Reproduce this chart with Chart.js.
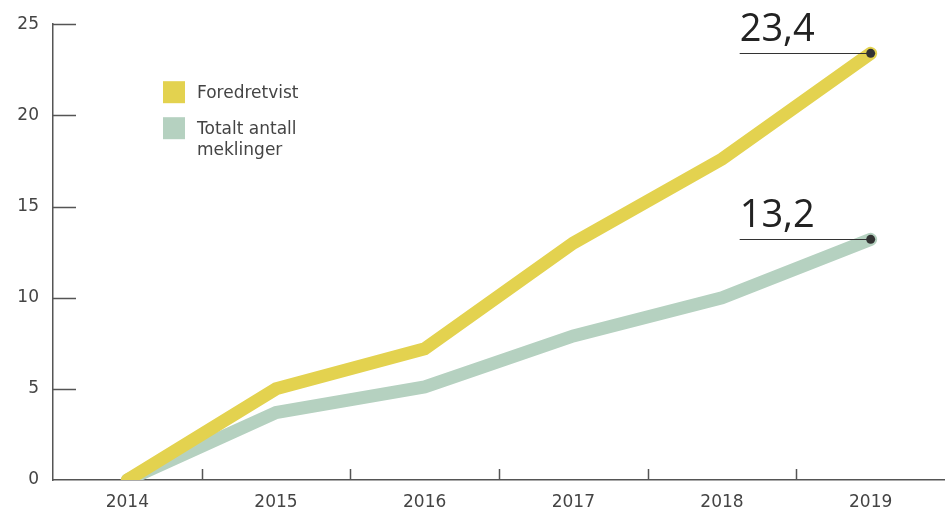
<!DOCTYPE html>
<html>
<head>
<meta charset="utf-8">
<script src="https://cdn.jsdelivr.net/npm/chart.js@4.4.0/dist/chart.umd.min.js"></script>
<style>
  html, body { margin: 0; padding: 0; background: #ffffff; }
  #wrap { width: 945px; height: 513px; }
</style>
</head>
<body>
<div id="wrap"><canvas id="c" width="945" height="513"></canvas></div>
<script>
const categories = ['2014', '2015', '2016', '2017', '2018', '2019'];
const foredretvist = [0, 5.0, 7.2, 13.0, 17.6, 23.4];
const totaltAntall = [0, 3.7, 5.1, 7.9, 10.0, 13.2];
const seriesLabels = [['Foredretvist'], ['Totalt antall', 'meklinger']];
const endLabels = ['23,4', '13,2'];
const yTickValues = [0, 5, 10, 15, 20, 25];

const YELLOW = '#e3d24f';
const GREEN = '#b5d1c0';
const AXIS = '#555555';
const FONT = '"DejaVu Sans", "Noto Sans", sans-serif';
const BIGFONT = '"Open Sans", "Noto Sans", sans-serif';

const innerTicks = {
  id: 'innerTicks',
  beforeDatasetsDraw(chart) {
    const { ctx, chartArea, scales: { x, y } } = chart;
    ctx.save();
    ctx.strokeStyle = AXIS;
    ctx.lineWidth = 1.5;
    ctx.beginPath();
    for (let i = 1; i < categories.length; i++) {
      const px = Math.round((x.getPixelForValue(i - 1) + x.getPixelForValue(i)) / 2) + 0.5;
      ctx.moveTo(px, chartArea.bottom);
      ctx.lineTo(px, chartArea.bottom - 11);
    }
    yTickValues.forEach(v => {
      if (v === 0) return;
      const py = Math.round(y.getPixelForValue(v)) + 0.5;
      ctx.moveTo(chartArea.left, py);
      ctx.lineTo(chartArea.left + 23, py);
    });
    ctx.stroke();
    ctx.restore();
  }
};

const legendAndLabels = {
  id: 'legendAndLabels',
  afterDatasetsDraw(chart) {
    const { ctx, chartArea } = chart;
    ctx.save();
    const colors = [YELLOW, GREEN];
    const lx = chartArea.left + 110;
    const ly = chartArea.top + 57;
    ctx.font = '17px ' + FONT;
    ctx.textBaseline = 'alphabetic';
    seriesLabels.forEach((lines, i) => {
      const by = ly + i * 36;
      ctx.fillStyle = colors[i];
      ctx.fillRect(lx, by, 22, 22);
      ctx.fillStyle = '#444';
      lines.forEach((t, j) => {
        ctx.fillText(t, lx + 34, by + 17 + j * 21);
      });
    });
    chart.data.datasets.forEach((ds, i) => {
      const meta = chart.getDatasetMeta(i);
      const pt = meta.data[meta.data.length - 1];
      const startX = pt.x - 131;
      ctx.strokeStyle = '#333';
      ctx.lineWidth = 1.2;
      ctx.beginPath();
      ctx.moveTo(startX, Math.round(pt.y) + 0.5);
      ctx.lineTo(pt.x, Math.round(pt.y) + 0.5);
      ctx.stroke();
      ctx.fillStyle = '#333';
      ctx.beginPath();
      ctx.arc(pt.x, pt.y, 4.5, 0, Math.PI * 2);
      ctx.fill();
      ctx.fillStyle = '#222';
      ctx.font = '400 38px ' + BIGFONT;
      ctx.textAlign = 'left';
      ctx.fillText(endLabels[i], startX, pt.y - 12);
    });
    ctx.restore();
  }
};

new Chart(document.getElementById('c'), {
  type: 'line',
  data: {
    labels: categories,
    datasets: [
      {
        label: seriesLabels[0].join(' '),
        data: foredretvist,
        borderColor: YELLOW,
        borderWidth: 13,
        borderCapStyle: 'round',
        borderJoinStyle: 'miter',
        pointRadius: 0,
        tension: 0,
        fill: false
      },
      {
        label: seriesLabels[1].join(' '),
        data: totaltAntall,
        borderColor: GREEN,
        borderWidth: 13,
        borderCapStyle: 'round',
        borderJoinStyle: 'miter',
        pointRadius: 0,
        tension: 0,
        fill: false
      }
    ]
  },
  options: {
    responsive: false,
    animation: false,
    devicePixelRatio: 1,
    layout: { padding: { top: 24, right: 0, left: 0, bottom: 0 } },
    plugins: { legend: { display: false }, tooltip: { enabled: false } },
    scales: {
      x: {
        type: 'category',
        offset: true,
        grid: { display: false, drawTicks: false },
        border: { display: true, color: AXIS, width: 1.5 },
        ticks: { color: '#444', font: { family: FONT, size: 17 }, padding: 12, maxRotation: 0, autoSkip: false },
        afterFit(s) { s.height = 33; }
      },
      y: {
        min: 0,
        max: 25,
        grid: { display: false, drawTicks: false },
        border: { display: true, color: AXIS, width: 1.5 },
        afterBuildTicks(s) { s.ticks = yTickValues.map(v => ({ value: v })); },
        ticks: { color: '#444', font: { family: FONT, size: 17 }, padding: 14 },
        afterFit(s) { s.width = 53; }
      }
    }
  },
  plugins: [innerTicks, legendAndLabels]
});
</script>
</body>
</html>
